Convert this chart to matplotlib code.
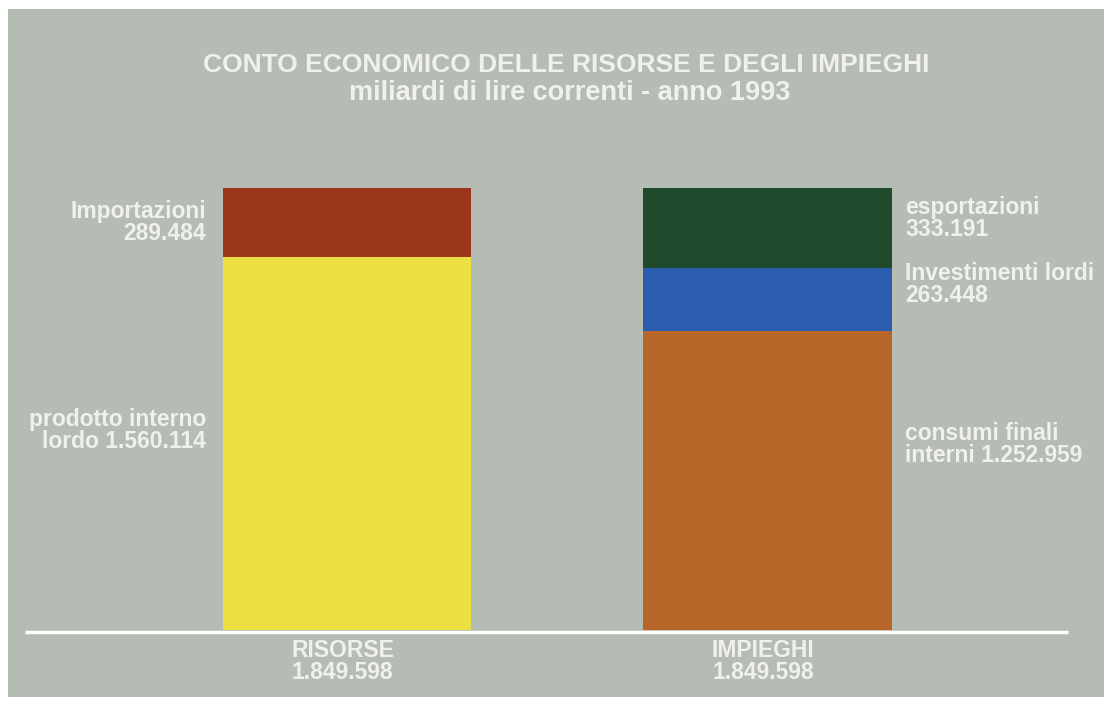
import matplotlib.pyplot as plt
from matplotlib.patches import Rectangle

# miliardi di lire correnti - anno 1993
columns = ['RISORSE', 'IMPIEGHI']
totals = ['1.849.598', '1.849.598']

risorse_labels = ['prodotto interno\nlordo 1.560.114', 'Importazioni\n289.484']
risorse_values = [1560114, 289484]
risorse_colors = ['#ebdf42', '#9b361c']

impieghi_labels = ['consumi finali\ninterni 1.252.959', 'Investimenti lordi\n263.448', 'esportazioni\n333.191']
impieghi_values = [1252959, 263448, 333191]
impieghi_colors = ['#b8652a', '#2b5cae', '#1f4a2b']

W, H = 1112, 706
fig = plt.figure(figsize=(W / 100, H / 100), dpi=100)
fig.patch.set_facecolor('white')

ax = fig.add_axes([0, 0, 1, 1])
ax.set_facecolor('none')
ax.axis('off')
ax.add_patch(Rectangle((8 / W, 9 / H), 1096 / W, 688 / H, transform=ax.transAxes,
                       facecolor='#b5bcb4', edgecolor='none', zorder=0))

px_per_unit = 442 / 1849598
base_px = 76
ax.set_ylim(-base_px / px_per_unit, (H - base_px) / px_per_unit)
left_c, dist = 347, 420.5
ax.set_xlim(-left_c / dist, (W - left_c) / dist)
width = 0.59

font = ['Liberation Sans', 'DejaVu Sans']
txt = dict(color='#f1f1ec', fontweight='bold', family=font, linespacing=0.93)

# left column
bottom = 0
for lab, v, c in zip(risorse_labels, risorse_values, risorse_colors):
    ax.bar(0, v, width=width, bottom=bottom, color=c, edgecolor='none', zorder=2)
    ax.text(-width / 2 - 0.04, bottom + v / 2 + (55000 if v > 1e6 else 0), lab,
            ha='right', va='center', fontsize=16.5, zorder=3, **txt)
    bottom += v

# right column
bottom = 0
offsets = [150000, 60000, 40000]
for lab, v, c, off in zip(impieghi_labels, impieghi_values, impieghi_colors, offsets):
    ax.bar(1, v, width=width, bottom=bottom, color=c, edgecolor='none', zorder=2)
    ax.text(1 + width / 2 + 0.033, bottom + v / 2 + off, lab,
            ha='left', va='center', fontsize=16.5, zorder=3, **txt)
    bottom += v

# baseline
ax.plot([(25 - left_c) / dist, (1068 - left_c) / dist], [-8000, -8000],
        color='white', lw=2.5, solid_capstyle='butt', zorder=3)

for i, (name, tot) in enumerate(zip(columns, totals)):
    ax.text(i - 0.01, -38000, name + '\n' + tot, ha='center', va='top', fontsize=16.5,
            zorder=3, **txt)

fig.text(566 / W, 1 - 65 / H, 'CONTO ECONOMICO DELLE RISORSE E DEGLI IMPIEGHI',
         ha='center', va='center', fontsize=19, **txt)
fig.text(570 / W, 1 - 93 / H, 'miliardi di lire correnti - anno 1993',
         ha='center', va='center', fontsize=19.5, **txt)

fig.savefig('out.png', dpi=100, facecolor=fig.get_facecolor())
